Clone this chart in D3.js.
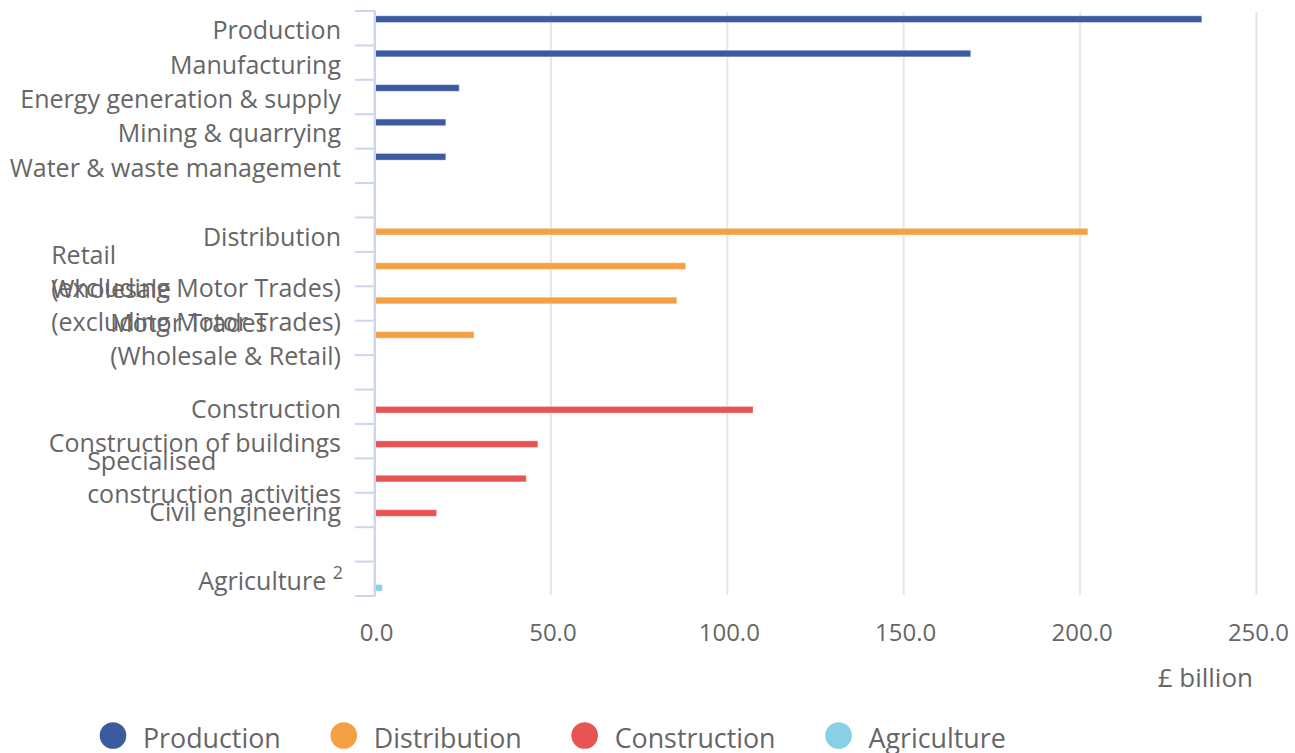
<!DOCTYPE html>
<html>
<head>
<meta charset="utf-8">
<script src="https://cdn.jsdelivr.net/npm/d3@7"></script>
<style>
  html, body { margin: 0; padding: 0; background: #fff; }
  svg { display: block; font-family: "Open Sans", sans-serif; }
</style>
</head>
<body>
<svg id="chart" width="1295" height="753"></svg>
<script>
// ---- data ----
const categories = [
  "Production", "Manufacturing", "Energy generation & supply", "Mining & quarrying",
  "Water & waste management", "gap1",
  "Distribution", "Retail (excluding Motor Trades)", "Wholesale (excluding Motor Trades)",
  "Motor Trades (Wholesale & Retail)", "gap2",
  "Construction", "Construction of buildings", "Specialised construction activities",
  "Civil engineering", "gap3",
  "Agriculture"
];
const categoryLines = [
  ["Production"], ["Manufacturing"], ["Energy generation & supply"], ["Mining & quarrying"],
  ["Water & waste management"], [],
  ["Distribution"], ["Retail", "(excluding Motor Trades)"], ["Wholesale", "(excluding Motor Trades)"],
  ["Motor Trades", "(Wholesale & Retail)"], [],
  ["Construction"], ["Construction of buildings"], ["Specialised", "construction activities"],
  ["Civil engineering"], [],
  ["Agriculture"]
];
const categoryFootnotes = {"Agriculture": "2"};

const seriesNames = ["Production", "Distribution", "Construction", "Agriculture"];
const seriesColors = ["#3c5a9f", "#f5a044", "#e85454", "#89cfe5"];

const productionCats = ["Production", "Manufacturing", "Energy generation & supply", "Mining & quarrying", "Water & waste management"];
const productionValues = [234.5, 169.0, 24.0, 20.2, 20.2];
const distributionCats = ["Distribution", "Retail (excluding Motor Trades)", "Wholesale (excluding Motor Trades)", "Motor Trades (Wholesale & Retail)"];
const distributionValues = [202.2, 88.2, 85.7, 28.2];
const constructionCats = ["Construction", "Construction of buildings", "Specialised construction activities", "Civil engineering"];
const constructionValues = [107.3, 46.3, 43.0, 17.6];
const agricultureCats = ["Agriculture"];
const agricultureValues = [2.2];

const xTicks = [0, 50, 100, 150, 200, 250];
const xAxisTitle = "£ billion";

// ---- build ----
const seriesData = [
  {name: "Production", cats: productionCats, vals: productionValues},
  {name: "Distribution", cats: distributionCats, vals: distributionValues},
  {name: "Construction", cats: constructionCats, vals: constructionValues},
  {name: "Agriculture", cats: agricultureCats, vals: agricultureValues}
];
const bars = [];
seriesData.forEach(s => s.cats.forEach((c, i) => bars.push({series: s.name, cat: c, value: s.vals[i]})));

const svg = d3.select("#chart");
const textColor = "#666666";

const x = d3.scaleLinear().domain([0, 250]).range([374.5, 1256.5]);
const y = d3.scaleBand().domain(categories).range([11, 596]).paddingInner(0).paddingOuter(0);
const ySub = d3.scaleBand().domain(seriesNames).range([0, y.bandwidth()]).paddingInner(0).paddingOuter(0.85);
const color = d3.scaleOrdinal().domain(seriesNames).range(seriesColors);

// gridlines
svg.append("g").selectAll("line").data(xTicks).join("line")
  .attr("x1", d => x(d)).attr("x2", d => x(d))
  .attr("y1", 12).attr("y2", 595)
  .attr("stroke", "#e6e6e6").attr("stroke-width", 2);

// bars
svg.append("g").selectAll("rect").data(bars).join("rect")
  .attr("x", x(0))
  .attr("y", d => y(d.cat) + ySub(d.series) - 0.3)
  .attr("width", d => x(d.value) - x(0))
  .attr("height", ySub.bandwidth() + 0.6)
  .attr("fill", d => color(d.series))
  .attr("stroke", "#ffffff").attr("stroke-opacity", 0.35).attr("stroke-width", 1);

// y axis line & ticks
const yAxisG = svg.append("g");
yAxisG.append("line").attr("x1", 375).attr("x2", 375).attr("y1", 11).attr("y2", 596)
  .attr("stroke", "#ccd6eb").attr("stroke-width", 2);
const tickYs = categories.map(c => y(c)).concat([y.range()[1]]);
yAxisG.selectAll("line.tick").data(tickYs).join("line").attr("class", "tick")
  .attr("x1", 355).attr("x2", 375).attr("y1", d => d).attr("y2", d => d)
  .attr("stroke", "#ccd6eb").attr("stroke-width", 2);

// y labels
const labelRight = 341;
const fs = 25, lineH = 33;
categories.forEach((c, i) => {
  const lines = categoryLines[i];
  if (!lines.length) return;
  const cy = y(c) + y.bandwidth() / 2;
  const t = svg.append("text").attr("fill", textColor).attr("font-size", fs);
  if (lines.length === 1) {
    t.attr("text-anchor", "end").attr("x", categoryFootnotes[c] ? labelRight + 2 : labelRight).attr("y", cy + 11).text(lines[0] + (categoryFootnotes[c] ? " " : ""));
    if (categoryFootnotes[c]) {
      t.append("tspan").attr("font-size", 18).attr("dy", -11).text(categoryFootnotes[c]);
    }
  } else {
    const tsp = t.selectAll("tspan").data(lines).join("tspan")
      .attr("y", (d, k) => cy + 11 + (k - (lines.length - 1) / 2) * lineH)
      .text(d => d);
    let maxW = 0;
    tsp.each(function() { maxW = Math.max(maxW, this.getComputedTextLength()); });
    tsp.attr("x", labelRight - maxW);
  }
});

// x tick labels
svg.append("g").selectAll("text").data(xTicks).join("text")
  .attr("x", d => x(d) + 2).attr("y", 641)
  .attr("text-anchor", "middle").attr("fill", textColor).attr("font-size", 24)
  .text(d => d3.format(".1f")(d));

svg.append("text").attr("x", 1253).attr("y", 687).attr("text-anchor", "end")
  .attr("fill", textColor).attr("font-size", 26).text(xAxisTitle);

// legend
let lx = 113;
seriesNames.forEach((s, i) => {
  svg.append("circle").attr("cx", lx).attr("cy", 735.5).attr("r", 13.3).attr("fill", seriesColors[i]);
  const t = svg.append("text").attr("x", lx + 30).attr("y", 748).attr("fill", textColor)
    .attr("font-size", 26.8).text(s);
  const w = t.node().getComputedTextLength();
  lx = lx + 30 + w + 63;
});
</script>
</body>
</html>
